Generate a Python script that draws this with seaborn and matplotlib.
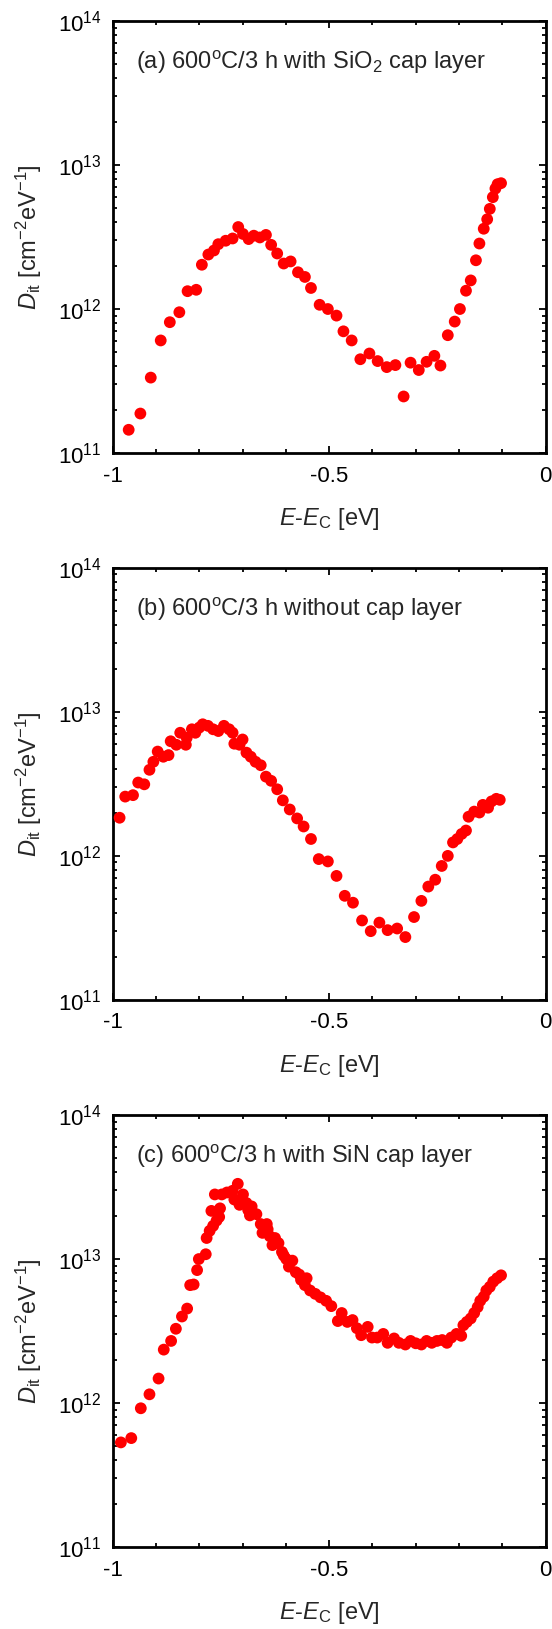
import matplotlib
matplotlib.use("Agg")
import matplotlib.pyplot as plt
import matplotlib.ticker as mticker
import numpy as np
import pandas as pd
import seaborn as sns

sns.set_theme(style="ticks")
plt.rcParams["font.family"] = ["Liberation Sans", "DejaVu Sans"]
plt.rcParams["mathtext.fontset"] = "custom"
plt.rcParams["mathtext.rm"] = "Liberation Sans"
plt.rcParams["mathtext.it"] = "Liberation Sans:italic"
plt.rcParams["mathtext.bf"] = "Liberation Sans:bold"

# (a) with SiO2 cap layer
energy_a = [-0.963, -0.936, -0.912, -0.889, -0.868, -0.846, -0.827, -0.807, -0.794, -0.779,
            -0.766, -0.756, -0.739, -0.723, -0.710, -0.699, -0.686, -0.674, -0.660, -0.646,
            -0.634, -0.620, -0.605, -0.589, -0.572, -0.556, -0.542, -0.522, -0.503, -0.483,
            -0.467, -0.448, -0.428, -0.407, -0.388, -0.367, -0.347, -0.328, -0.312, -0.293,
            -0.275, -0.257, -0.243, -0.226, -0.210, -0.198, -0.184, -0.173, -0.161, -0.153,
            -0.143, -0.135, -0.129, -0.122, -0.116, -0.111, -0.103]
dit_a = [1.45e11, 1.88e11, 3.34e11, 6.05e11, 8.1e11, 9.5e11, 1.33e12, 1.36e12, 2.03e12, 2.39e12,
         2.55e12, 2.82e12, 2.98e12, 3.09e12, 3.71e12, 3.32e12, 3.06e12, 3.23e12, 3.14e12, 3.27e12,
         2.79e12, 2.43e12, 2.07e12, 2.14e12, 1.80e12, 1.67e12, 1.40e12, 1.07e12, 1.00e12, 9.0e11,
         7.0e11, 6.05e11, 4.48e11, 4.91e11, 4.35e11, 3.95e11, 4.08e11, 2.47e11, 4.24e11, 3.77e11,
         4.3e11, 4.73e11, 4.05e11, 6.58e11, 8.18e11, 1.0e12, 1.34e12, 1.58e12, 2.18e12, 2.85e12,
         3.61e12, 4.2e12, 4.96e12, 5.98e12, 6.86e12, 7.36e12, 7.48e12]

# (b) without cap layer
energy_b = [-0.984, -0.971, -0.953, -0.941, -0.927, -0.915, -0.906, -0.896, -0.883, -0.871,
            -0.866, -0.853, -0.844, -0.831, -0.829, -0.817, -0.809, -0.800, -0.792, -0.780,
            -0.768, -0.756, -0.743, -0.731, -0.723, -0.719, -0.707, -0.700, -0.691, -0.681,
            -0.670, -0.658, -0.646, -0.634, -0.620, -0.607, -0.591, -0.574, -0.559, -0.542,
            -0.524, -0.503, -0.483, -0.464, -0.445, -0.424, -0.404, -0.384, -0.365, -0.343,
            -0.324, -0.304, -0.287, -0.271, -0.255, -0.240, -0.226, -0.214, -0.204, -0.194,
            -0.184, -0.178, -0.165, -0.153, -0.145, -0.133, -0.125, -0.114, -0.106]
dit_b = [1.84e12, 2.58e12, 2.64e12, 3.23e12, 3.14e12, 3.96e12, 4.5e12, 5.3e12, 4.88e12, 5.01e12,
         6.25e12, 5.91e12, 7.16e12, 5.91e12, 6.6e12, 7.57e12, 7.16e12, 7.78e12, 8.2e12, 8.0e12,
         7.57e12, 7.36e12, 8.0e12, 7.57e12, 7.16e12, 6.01e12, 5.91e12, 6.43e12, 5.21e12, 4.88e12,
         4.5e12, 4.26e12, 3.55e12, 3.32e12, 2.90e12, 2.43e12, 2.10e12, 1.82e12, 1.60e12, 1.31e12,
         9.5e11, 9.15e11, 7.26e11, 5.28e11, 4.73e11, 3.56e11, 3.0e11, 3.44e11, 3.05e11, 3.13e11,
         2.73e11, 3.76e11, 4.87e11, 6.12e11, 6.83e11, 8.51e11, 1.0e12, 1.24e12, 1.31e12, 1.42e12,
         1.50e12, 1.87e12, 2.03e12, 2.0e12, 2.26e12, 2.16e12, 2.39e12, 2.49e12, 2.45e12]

# (c) with SiN cap layer
energy_c = [-0.981, -0.957, -0.935, -0.915, -0.894, -0.882, -0.865, -0.854, -0.840, -0.828,
            -0.821, -0.813, -0.805, -0.801, -0.785, -0.783, -0.776, -0.768, -0.760, -0.754,
            -0.772, -0.752, -0.764, -0.748, -0.736, -0.723, -0.711, -0.719, -0.699, -0.707,
            -0.691, -0.687, -0.679, -0.683, -0.668, -0.658, -0.644, -0.654, -0.642, -0.637,
            -0.631, -0.625, -0.617, -0.609, -0.605, -0.599, -0.585, -0.593, -0.577, -0.569,
            -0.565, -0.556, -0.552, -0.544, -0.532, -0.520, -0.507, -0.495, -0.480, -0.471,
            -0.458, -0.446, -0.436, -0.426, -0.411, -0.401, -0.389, -0.375, -0.365, -0.350,
            -0.339, -0.324, -0.312, -0.300, -0.287, -0.275, -0.263, -0.251, -0.239, -0.228,
            -0.218, -0.206, -0.195, -0.190, -0.182, -0.173, -0.165, -0.157, -0.151, -0.143,
            -0.137, -0.129, -0.121, -0.112, -0.103]
dit_c = [5.33e11, 5.71e11, 9.2e11, 1.15e12, 1.48e12, 2.35e12, 2.70e12, 3.28e12, 3.99e12, 4.53e12,
         6.59e12, 6.66e12, 8.38e12, 1.0e13, 1.08e13, 1.40e13, 1.57e13, 1.70e13, 1.85e13, 1.96e13,
         2.16e13, 2.25e13, 2.81e13, 2.81e13, 2.90e13, 2.98e13, 3.33e13, 2.59e13, 2.81e13, 2.38e13,
         2.45e13, 2.19e13, 2.32e13, 2.01e13, 2.05e13, 1.75e13, 1.75e13, 1.52e13, 1.61e13, 1.44e13,
         1.25e13, 1.40e13, 1.29e13, 1.12e13, 1.06e13, 1.0e13, 9.75e12, 8.86e12, 8.1e12, 7.8e12,
         7.17e12, 6.59e12, 7.36e12, 6.05e12, 5.73e12, 5.42e12, 5.13e12, 4.71e12, 3.71e12, 4.22e12,
         3.66e12, 3.77e12, 3.31e12, 2.96e12, 3.38e12, 2.85e12, 2.85e12, 3.02e12, 2.62e12, 2.81e12,
         2.62e12, 2.55e12, 2.70e12, 2.60e12, 2.55e12, 2.70e12, 2.62e12, 2.70e12, 2.74e12, 2.62e12,
         2.85e12, 3.02e12, 2.93e12, 3.47e12, 3.66e12, 3.87e12, 4.22e12, 4.64e12, 5.13e12, 5.48e12,
         6.05e12, 6.41e12, 6.97e12, 7.36e12, 7.71e12]

panel_labels = [
    r"(a) 600$^{\mathrm{o}}$C/3 h with SiO$_{2}$ cap layer",
    r"(b) 600$^{\mathrm{o}}$C/3 h without cap layer",
    r"(c) 600$^{\mathrm{o}}$C/3 h with SiN cap layer",
]
x_ticks = [-1, -0.5, 0]
x_ticklabels = ["-1", "-0.5", "0"]

panels = [(energy_a, dit_a), (energy_b, dit_b), (energy_c, dit_c)]
bottoms = [0.7219, 0.3862, 0.0503]

fig = plt.figure(figsize=(5.52, 16.29), dpi=100)

for (energy, dit), label, bottom in zip(panels, panel_labels, bottoms):
    ax = fig.add_axes([0.2041, bottom, 0.7844, 0.2652])
    df = pd.DataFrame({"E": energy, "Dit": dit})
    sns.scatterplot(data=df, x="E", y="Dit", ax=ax, color="#ff0000",
                    s=72, linewidth=0, edgecolor="none", zorder=3)
    ax.set_yscale("log")
    ax.set_xlim(-1, 0)
    ax.set_ylim(1e11, 1e14)
    ax.set_xticks(x_ticks)
    ax.set_xticklabels(x_ticklabels)
    ax.xaxis.set_minor_locator(mticker.MultipleLocator(0.1))
    ax.yaxis.set_major_locator(mticker.LogLocator(base=10, numticks=10))
    ax.yaxis.set_minor_locator(mticker.LogLocator(base=10, subs=np.arange(2, 10), numticks=20))
    ax.yaxis.set_minor_formatter(mticker.NullFormatter())
    ax.tick_params(which="both", direction="in", top=True, right=True, width=1.3,
                   labelsize=16, colors="black")
    ax.tick_params(axis="x", which="major", length=5, pad=9)
    ax.tick_params(axis="y", which="major", length=5, pad=8)
    ax.tick_params(which="minor", length=2.6)
    for sp in ax.spines.values():
        sp.set_linewidth(2.0)
        sp.set_color("black")
    ax.set_xlabel(r"$E$-$E_{\mathrm{C}}$ [eV]", fontsize=17, labelpad=14)
    ax.set_ylabel(r"$D_{\mathrm{it}}$ [cm$^{-2}$eV$^{-1}$]", fontsize=17, labelpad=10)
    ax.text(0.053, 0.905, label, transform=ax.transAxes, fontsize=17,
            ha="left", va="center")
    ax.grid(False)

fig.savefig("out.png", dpi=100, facecolor="white")
